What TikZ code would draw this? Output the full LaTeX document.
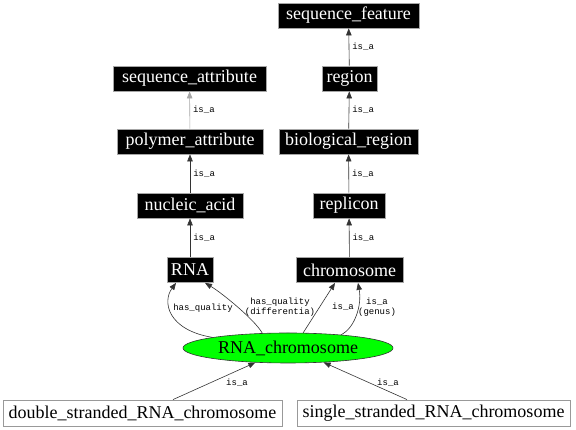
\documentclass[tikz,border=0pt]{standalone}
\usepackage{fontspec}
\setmainfont{Liberation Serif}
\newfontfamily\lblfont{Liberation Mono}
\usetikzlibrary{arrows.meta,shapes.geometric,calc}
\begin{document}
\begin{tikzpicture}[x=1pt,y=1pt,
  term/.style={draw=gray!70, fill=black, text=white, font=\fontsize{18}{20}\selectfont,
    minimum height=25pt, inner xsep=4pt, inner ysep=0pt, line width=0.8pt},
  leaf/.style={draw=gray!80, fill=white, text=black, font=\fontsize{18}{20}\selectfont,
    minimum height=26pt, inner xsep=4pt, inner ysep=0pt, line width=0.8pt},
  focus/.style={ellipse, draw=black!80, fill=green, text=black, font=\fontsize{18}{20}\selectfont,
    minimum width=210pt, minimum height=30pt, inner sep=0pt, line width=0.6pt},
  edge/.style={draw=black!80, line width=0.6pt, -{Triangle[length=7pt,width=5.5pt]}},
  lbl/.style={font=\lblfont\fontsize{9}{10}\selectfont, text=black, inner sep=1pt, align=center},
  vlbl/.style={lbl, anchor=west, xshift=2pt}
]
\useasboundingbox (0,0) rectangle (576,430);

\node[term, minimum width=141pt] (sf) at (348.5,414.5) {sequence\_feature};
\node[term, minimum width=55pt] (region) at (349.5,351.5) {region};
\node[term, minimum width=139pt] (br) at (348.5,288.5) {biological\_region};
\node[term, minimum width=72pt] (replicon) at (349,224.5) {replicon};
\node[term, minimum width=107pt] (chrom) at (349.5,160) {chromosome};
\node[term, minimum width=153pt] (sa) at (189.5,351.5) {sequence\_attribute};
\node[term, minimum width=146pt] (pa) at (190,288.5) {polymer\_attribute};
\node[term, minimum width=106pt] (na) at (190,224.5) {nucleic\_acid};
\node[term, minimum width=46pt] (rna) at (190,160) {RNA};
\node[focus] (rc) at (288,82) {RNA\_chromosome};
\node[leaf, minimum width=279pt] (ds) at (142.5,17) {double\_stranded\_RNA\_chromosome};
\node[leaf, minimum width=273pt] (ss) at (433.5,17) {single\_stranded\_RNA\_chromosome};

% vertical is_a chains
\draw[edge] (region) -- node[vlbl]{is\_a} (sf);
\draw[edge] (br) -- node[vlbl]{is\_a} (region);
\draw[edge] (replicon) -- node[vlbl]{is\_a} (br);
\draw[edge] (chrom) -- node[vlbl]{is\_a} (replicon);
\draw[edge, draw=gray!70] (pa) -- node[vlbl]{is\_a} (sa);
\draw[edge] (na) -- node[vlbl]{is\_a} (pa);
\draw[edge] (rna) -- node[vlbl]{is\_a} (na);

% RNA_chromosome relations
\draw[edge] (rc.172) .. controls (168,100) and (162,128) .. ($(rna.south)+(-14,0)$);
\node[lbl] (l1) at (203,122) {has\_quality};
\draw[edge] (rc.150) .. controls (255,110) and (222,137) .. ($(rna.south)+(15,0)$);
\node[lbl] (l2) at (280,122.5) {has\_quality\\(differentia)};
\draw[edge] (rc.45) -- ($(chrom.south)+(-14.5,0)$);
\node[lbl] (l3) at (343,123) {is\_a};
\draw[edge] (rc.14) .. controls (355,102) and (362,125) .. ($(chrom.south)+(8.5,0)$);
\node[lbl] (l4) at (377,122.5) {is\_a\\(genus)};

\draw[edge] ($(ds.north)+(30.5,0)$) -- (rc.204);
\node[lbl] (l5) at (237,47) {is\_a};
\draw[edge] ($(ss.north)+(-26.5,0)$) -- (rc.338);
\node[lbl] (l6) at (388,47) {is\_a};
\end{tikzpicture}
\end{document}
